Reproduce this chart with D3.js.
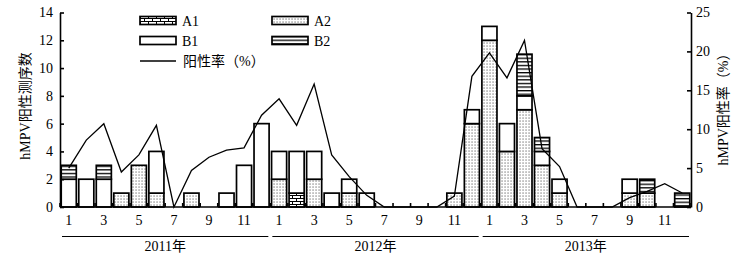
<!DOCTYPE html>
<html><head><meta charset="utf-8">
<script src="https://cdn.jsdelivr.net/npm/d3@7"></script>
<style>
html,body{margin:0;padding:0;background:#fff;}
svg{display:block;}
text{font-family:"Liberation Serif","Noto Sans CJK SC",serif;fill:#000;}
</style></head>
<body>
<svg id="chart" width="737" height="256"></svg>
<script>
// ---- data ----
const years = ["2011年","2012年","2013年"];
const monthNums = [1,2,3,4,5,6,7,8,9,10,11,12];
const months = [];
years.forEach((yr,yi)=>monthNums.forEach(m=>months.push({key:yr+"-"+m, year:yi, month:m})));
const seriesNames = ["A1","A2","B1","B2"];
const A1 = [0,0,0,0,0,0,0,0,0,0,0,0, 0,1,0,0,0,0,0,0,0,0,0,0, 0,0,0,0,0,0,0,0,0,0,0,0];
const A2 = [0,0,0,1,3,1,0,1,0,0,0,0, 2,0,2,0,1,0,0,0,0,0,1,6, 12,4,7,3,1,0,0,0,1,1,0,0];
const B1 = [2,2,2,0,0,3,0,0,0,1,3,6, 2,3,2,1,1,1,0,0,0,0,0,1, 1,2,1,1,1,0,0,0,1,0,0,0];
const B2 = [1,0,1,0,0,0,0,0,0,0,0,0, 0,0,0,0,0,0,0,0,0,0,0,0, 0,0,3,1,0,0,0,0,0,1,0,1];
const rate = [5.0,8.6,10.7,4.5,6.7,10.5,0,4.7,6.4,7.3,7.6,11.8,
              13.9,10.5,15.8,6.7,3.9,1.5,0,0,0,0,1.4,16.8,
              19.8,16.6,21.4,7.5,5.2,0,0,0,1.2,2.0,3.0,1.8];
const leftTicks = [0,2,4,6,8,10,12,14];
const rightTicks = [0,5,10,15,20,25];
const monthTickLabels = [1,3,5,7,9,11];
const leftTitle = "hMPV阳性测序数";
const rightTitle = "hMPV阳性率（%）";
const lineLabel = "阳性率（%）";

// ---- layout ----
const svg = d3.select("#chart");
const L = 60, R = 691, T = 12.5, B = 207;
const x = d3.scaleBand().domain(months.map(d=>d.key)).range([L,R]).paddingInner(0.14).paddingOuter(0.07);
const y = d3.scaleLinear().domain([0,14]).range([B,T]);
const yR = d3.scaleLinear().domain([0,25]).range([B,T]);

// patterns
const defs = svg.append("defs");
const pd = defs.append("pattern").attr("id","pA2").attr("patternUnits","userSpaceOnUse").attr("width",3).attr("height",3);
pd.append("rect").attr("width",3).attr("height",3).attr("fill","#fff");
pd.append("rect").attr("x",0.5).attr("y",0.5).attr("width",1.1).attr("height",1.1).attr("fill","#555");
const ph = defs.append("pattern").attr("id","pB2").attr("patternUnits","userSpaceOnUse").attr("width",6).attr("height",3.6);
ph.append("rect").attr("width",6).attr("height",3.6).attr("fill","#fff");
ph.append("rect").attr("x",0).attr("y",0).attr("width",6).attr("height",1.3).attr("fill","#000");
const pb = defs.append("pattern").attr("id","pA1").attr("patternUnits","userSpaceOnUse").attr("width",8).attr("height",6);
pb.append("rect").attr("width",8).attr("height",6).attr("fill","#fff");
pb.append("path").attr("d","M0,0.5H8M0,3.5H8M0.5,0.5V3.5M4.5,3.5V6.5").attr("stroke","#000").attr("stroke-width",1);
const fills = {A1:"url(#pA1)", A2:"url(#pA2)", B1:"#fff", B2:"url(#pB2)"};

// stacked bars
const table = months.map((m,i)=>({key:m.key, A1:A1[i], A2:A2[i], B1:B1[i], B2:B2[i]}));
const stacked = d3.stack().keys(seriesNames)(table);
const gBars = svg.append("g");
stacked.forEach(s=>{
  gBars.selectAll(null).data(s.filter(d=>d[1]-d[0]>0)).enter().append("rect")
    .attr("x",d=>x(d.data.key)).attr("width",x.bandwidth())
    .attr("y",d=>y(d[1])).attr("height",d=>y(d[0])-y(d[1]))
    .attr("fill",fills[s.key]).attr("stroke","#000").attr("stroke-width",1.7);
});

// line
const line = d3.line().x((d,i)=>x(months[i].key)+x.bandwidth()/2).y(d=>yR(d));
svg.append("path").datum(rate).attr("d",line).attr("fill","none").attr("stroke","#000").attr("stroke-width",1.3).attr("stroke-linejoin","miter");

// left axis
const ax = svg.append("g").attr("transform",`translate(${L},0)`)
  .call(d3.axisLeft(y).tickValues(leftTicks).tickSizeInner(-4).tickSizeOuter(0).tickPadding(7));
ax.selectAll("text").style("font-size","14px");
ax.selectAll("line,path").attr("stroke","#000").attr("stroke-width",1.6);

// right axis
const axR = svg.append("g").attr("transform",`translate(${R},0)`)
  .call(d3.axisRight(yR).tickValues(rightTicks).tickSizeInner(-4).tickSizeOuter(0).tickPadding(5));
axR.selectAll("text").style("font-size","14px");
axR.selectAll("line,path").attr("stroke","#000").attr("stroke-width",1.6);

// bottom axis: baseline + boundary ticks + month labels
svg.append("line").attr("x1",L).attr("x2",R).attr("y1",B).attr("y2",B).attr("stroke","#000").attr("stroke-width",1.6);
const step = x.step();
const x0 = x(months[0].key) - x.step()*x.paddingInner()/2;
svg.append("g").selectAll("line").data(d3.range(months.length+1)).enter().append("line")
  .attr("x1",i=>x0+i*step).attr("x2",i=>x0+i*step).attr("y1",B).attr("y2",B-4)
  .attr("stroke","#000").attr("stroke-width",1.6);
svg.append("g").selectAll("text").data(months.filter(m=>monthTickLabels.includes(m.month))).enter().append("text")
  .attr("x",m=>x(m.key)+x.bandwidth()/2).attr("y",B+18).attr("text-anchor","middle").style("font-size","14px")
  .text(m=>m.month);

// year groups
years.forEach((yr,yi)=>{
  const ms = months.filter(m=>m.year===yi);
  const xa = x(ms[0].key) - step*x.paddingInner()/2 + 2;
  const xb = x(ms[ms.length-1].key) + x.bandwidth() + step*x.paddingInner()/2 - 2;
  svg.append("line").attr("x1",xa).attr("x2",xb).attr("y1",236.5).attr("y2",236.5).attr("stroke","#000").attr("stroke-width",1.2);
  svg.append("text").attr("x",(xa+xb)/2).attr("y",251).attr("text-anchor","middle").style("font-size","14px").text(yr);
});

// axis titles (both read bottom-to-top)
svg.append("text").attr("transform",`translate(30,106) rotate(-90)`).attr("text-anchor","middle").style("font-size","14px").text(leftTitle);
svg.append("text").attr("transform",`translate(728,106) rotate(-90)`).attr("text-anchor","middle").style("font-size","14px").text(rightTitle);

// legend
const legItems = [{k:"A1",x:140,y:16.5},{k:"A2",x:272,y:16.5},{k:"B1",x:140,y:36.5},{k:"B2",x:272,y:36.5}];
legItems.forEach(it=>{
  svg.append("rect").attr("x",it.x).attr("y",it.y).attr("width",36).attr("height",8)
    .attr("fill",fills[it.k]).attr("stroke","#000").attr("stroke-width",1.7);
  svg.append("text").attr("x",it.x+42).attr("y",it.y+9).style("font-size","14px").text(it.k);
});
svg.append("line").attr("x1",140).attr("x2",176).attr("y1",61).attr("y2",61).attr("stroke","#000").attr("stroke-width",1.3);
svg.append("text").attr("x",183).attr("y",66).style("font-size","14px").text(lineLabel);
</script>
</body></html>
